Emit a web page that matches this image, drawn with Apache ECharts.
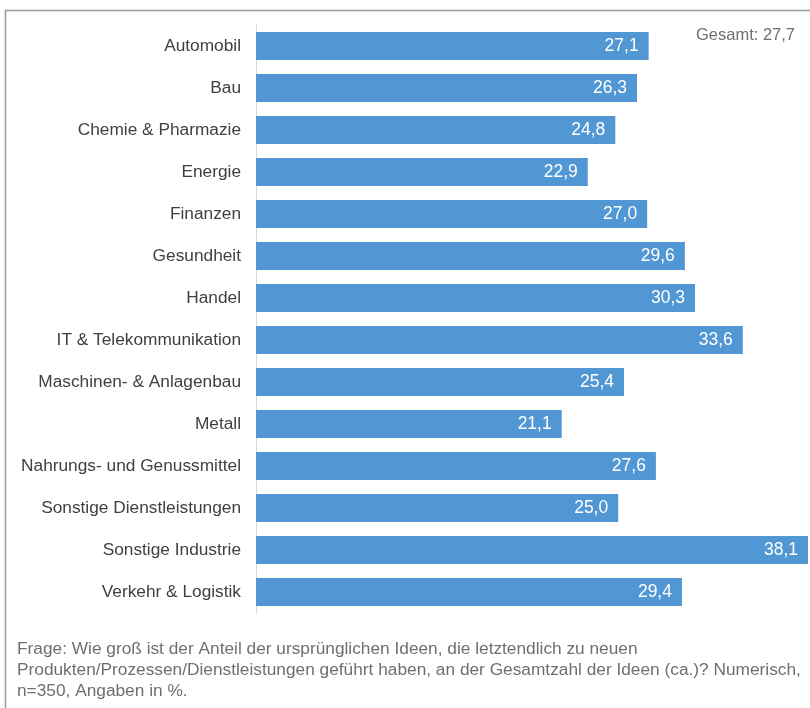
<!DOCTYPE html>
<html>
<head>
<meta charset="utf-8">
<script src="https://cdn.jsdelivr.net/npm/echarts@6/dist/echarts.min.js"></script>
<style>
  html, body { margin: 0; padding: 0; background: #fff; }
  #chart { width: 810px; height: 708px; }
</style>
</head>
<body>
<div id="chart"></div>
<script>
  // Branchen und Anteile (in %)
  const categories = [
    "Automobil", "Bau", "Chemie & Pharmazie", "Energie", "Finanzen",
    "Gesundheit", "Handel", "IT & Telekommunikation", "Maschinen- & Anlagenbau",
    "Metall", "Nahrungs- und Genussmittel", "Sonstige Dienstleistungen",
    "Sonstige Industrie", "Verkehr & Logistik"
  ];
  const values = [27.1, 26.3, 24.8, 22.9, 27.0, 29.6, 30.3, 33.6, 25.4, 21.1, 27.6, 25.0, 38.1, 29.4];
  const totalLabel = "Gesamt: 27,7";
  const footnote = [
    "Frage: Wie groß ist der Anteil der ursprünglichen Ideen, die letztendlich zu neuen",
    "Produkten/Prozessen/Dienstleistungen geführt haben, an der Gesamtzahl der Ideen (ca.)? Numerisch,",
    "n=350, Angaben in %."
  ];

  const font = '"Liberation Sans", Arial, sans-serif';
  const fmt = (v) => v.toFixed(1).replace(".", ",");

  const myChart = echarts.init(document.getElementById("chart"));
  myChart.setOption({
    animation: false,
    textStyle: { fontFamily: font },
    grid: { left: 256, right: 2, top: 25, bottom: 95 },
    xAxis: {
      type: "value",
      min: 0,
      max: 38.1,
      show: false,
    },
    yAxis: {
      type: "category",
      inverse: true,
      data: categories,
      axisLine: { lineStyle: { color: "#d9d9d9", width: 1 } },
      axisTick: { show: false },
      axisLabel: { color: "#404040", fontSize: 17.3, margin: 15, fontFamily: font },
    },
    graphic: [
      {
        type: "rect",
        shape: { x: 5.5, y: 10.5, width: 1000, height: 1000 },
        style: { fill: "none", stroke: "#9a9a9a", lineWidth: 1.5 },
        silent: true,
      },
      {
        type: "text",
        right: 15,
        top: 27,
        style: { text: totalLabel, fill: "#6f6f6f", font: "16.5px " + font },
      },
      {
        type: "text",
        left: 17,
        top: 639,
        style: {
          text: footnote.join("\n"),
          fill: "#6f6f6f",
          font: "17.3px " + font,
          lineHeight: 21,
        },
      },
    ],
    series: [
      {
        type: "bar",
        data: values,
        barWidth: 28,
        itemStyle: { color: "#5097d3" },
        label: {
          show: true,
          position: "insideRight",
          distance: 10,
          color: "#fff",
          fontSize: 17.5,
          fontFamily: font,
          formatter: (p) => fmt(p.value),
        },
      },
    ],
  });
</script>
</body>
</html>
